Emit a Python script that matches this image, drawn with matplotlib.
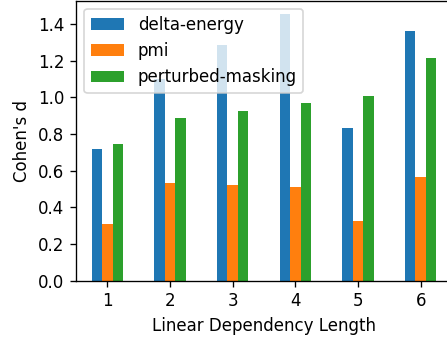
import pandas as pd
import matplotlib
matplotlib.use("Agg")
import matplotlib.pyplot as plt

# Cohen's d per linear dependency length
lengths = [1, 2, 3, 4, 5, 6]
delta_energy = [0.72, 1.10, 1.285, 1.455, 0.835, 1.365]
pmi = [0.31, 0.535, 0.52, 0.51, 0.324, 0.564]
perturbed_masking = [0.745, 0.89, 0.925, 0.97, 1.008, 1.213]

df = pd.DataFrame({
    'delta-energy': delta_energy,
    'pmi': pmi,
    'perturbed-masking': perturbed_masking,
}, index=lengths)

# rendered at 120 dpi so text and lines come out ~1.2x the default size
DPI = 120
fig = plt.figure(figsize=(447 / DPI, 338 / DPI), dpi=DPI)
ax = fig.add_axes([76 / 447, 57.3 / 338, 376 / 447, 280 / 338])
df.plot.bar(ax=ax, rot=0)
ax.set_ylim(0, 1.528)
ax.set_xlabel('Linear Dependency Length')
ax.set_ylabel("Cohen's d")
ax.legend(loc='upper left')

fig.savefig('out.png', dpi=DPI)
